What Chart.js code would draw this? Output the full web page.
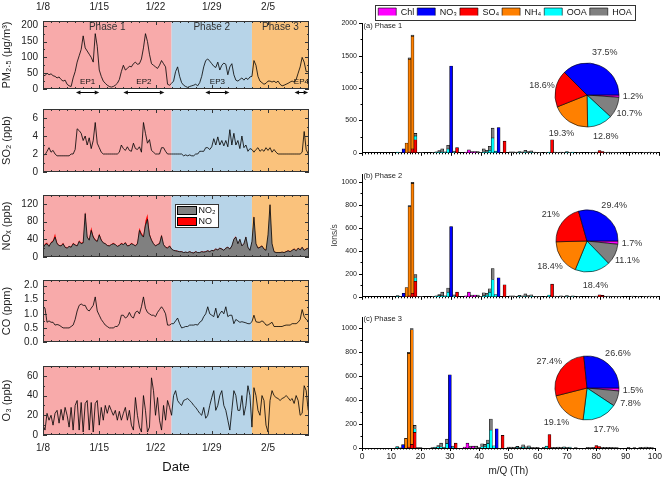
<!DOCTYPE html>
<html><head><meta charset="utf-8">
<script src="https://cdn.jsdelivr.net/npm/chart.js"></script>
<style>
html,body{margin:0;padding:0;background:#fff;}
#wrap{position:relative;width:666px;height:477px;overflow:hidden;background:#fff;}
canvas{position:absolute;display:block;}
</style></head><body><div id="wrap"></div>
<script>
// ---------------- DATA ----------------
const STEP = 0.25;               // days between samples, first sample 1/8 00:00
const XMAX = 33.1;
const dateLabels = ['1/8','1/15','1/22','1/29','2/5'];
const phaseNames = ['Phase 1','Phase 2','Phase 3'];
const phaseStart = [0, 16, 26];
const phaseEnd = [16, 26, 33.1];
const epNames = ['EP1','EP2','EP3','EP4'];
const epStart = [4.1, 10.0, 20.2, 31.3];
const epEnd = [7.0, 15.1, 23.2, 33.0];

const pm25 = [
45,42,50,45, 48,42,40,35, 38,30,25,28, 15,10,8,35, 55,85,105,125,
168,130,120,110, 100,85,175,135, 60,40,25,18, 12,8,6,8, 12,18,30,55,
75,60,65,72, 70,80,85,78, 80,95,130,175, 150,110,80,75, 70,65,75,90,
80,70,15,12, 18,25,55,70, 40,20,12,8, 5,8,10,12, 15,10,20,40,
70,90,95,88, 80,72,68,85, 60,75,82,78, 45,70,80,45, 28,25,30,35,
28,35,30,38, 40,90,75,40, 25,20,15,18, 25,25,22,25, 20,25,15,10,
12,15,18,22, 25,22,30,50, 70,100,85,55, 55];

const so2 = [
2.0,1.9,2.3,2.7, 2.2,2.4,2.0,1.8, 1.8,1.8,1.8,1.8, 1.8,1.8,2.0,2.0, 2.5,4.8,4.6,4.3,
3.5,4.0,3.0,3.8, 2.6,3.5,5.5,3.2, 2.7,2.2,2.0,2.0, 2.0,2.0,2.0,2.0, 2.0,2.0,2.2,3.0,
2.6,2.4,2.8,2.4, 2.3,3.2,2.6,2.5, 2.8,2.2,5.5,4.3, 3.2,3.6,2.4,2.2, 2.0,2.0,2.0,2.7,
2.7,2.3,2.0,2.0, 2.0,2.0,2.0,2.0, 2.0,2.0,1.8,1.9, 1.8,1.9,1.8,1.8, 2.0,2.0,2.3,2.3,
2.3,2.7,2.7,2.5, 2.8,3.7,3.0,3.9, 3.0,3.5,2.9,3.5, 2.8,4.7,3.0,4.3, 3.0,3.5,2.6,4.0,
2.7,3.0,2.3,2.6, 2.5,2.2,2.5,2.7, 2.3,2.5,2.3,2.7, 2.4,2.7,2.2,2.5, 2.2,2.0,2.0,2.0,
2.0,2.0,2.0,2.0, 2.0,2.0,2.0,2.0, 2.0,2.2,4.5,2.5, 2.0];

const no2 = [
20,28,30,24, 32,35,45,30, 26,25,30,22, 20,24,22,30, 27,25,35,30,
32,98,45,38, 60,45,38,35, 50,38,32,30, 26,25,28,30, 28,24,26,30,
28,32,25,26, 30,28,25,30, 60,50,45,72, 85,50,38,30, 25,28,30,48,
28,22,20,25, 18,15,14,13, 12,12,10,11, 10,12,10,9, 12,10,10,12,
11,12,14,12, 15,14,18,16, 20,18,15,20, 22,18,25,40, 45,30,40,25,
30,45,22,15, 35,90,30,20, 22,25,18,15, 50,118,30,12, 10,10,10,11,
10,12,14,12, 15,18,14,20, 16,22,15,18, 20];

const no = [
1,2,3,1, 2,3,8,2, 1,1,2,1, 1,1,1,2, 1,1,3,2,
2,5,2,1, 8,3,2,1, 3,2,1,1, 1,1,1,2, 1,1,1,2,
1,2,1,1, 2,1,1,2, 6,4,3,10, 12,4,2,1, 1,1,2,3,
1,1,1,1, 1,1,1,1, 1,1,1,1, 1,1,1,1, 1,1,1,1,
1,1,1,1, 1,2,1,1, 1,1,1,1, 1,1,1,2, 2,1,1,1,
1,2,1,1, 1,3,1,1, 1,1,1,1, 1,2,1,1, 1,1,1,1,
1,1,1,1, 1,1,1,1, 1,1,1,1, 1];

const co = [
1.25,1.2,0.7,0.75, 0.7,0.7,0.6,0.62, 0.6,0.55,0.5,0.5, 0.5,0.5,0.55,0.6, 0.8,1.1,1.3,1.35,
1.3,1.3,1.15,1.1, 1.2,1.3,1.6,1.1, 0.95,0.8,0.7,0.6, 0.55,0.5,0.5,0.5, 0.55,0.55,0.65,0.95,
0.95,0.85,0.9,1.05, 0.9,0.85,1.05,1.1, 1.0,1.25,1.6,1.2, 1.05,1.0,0.95,0.95, 0.9,1.05,1.15,1.25,
1.15,1.0,0.6,0.6, 0.65,0.65,0.75,0.85, 0.65,0.5,0.52,0.55, 0.55,0.6,0.6,0.6, 0.62,0.6,0.7,0.75,
0.9,1.0,1.25,1.0, 0.95,0.9,1.2,0.85, 1.0,1.1,1.0,1.25, 0.9,0.95,0.95,0.65, 0.8,0.75,0.7,0.72,
0.7,0.68,0.65,0.65, 0.72,0.95,0.72,0.7, 0.7,0.75,0.7,0.6, 0.6,0.65,0.7,0.55, 0.55,0.55,0.55,0.55,
0.58,0.6,0.6,0.6, 0.65,0.65,0.65,0.7, 0.8,1.15,0.9,0.8, 0.75];

const o3 = [
10,5,22,15, 20,10,22,25, 12,26,15,28, 20,8,28,5, 30,35,5,33,
3,32,35,5, 33,3,32,35, 10,28,15,30, 22,30,25,20, 25,15,24,15,
22,28,15,25, 10,5,38,20, 8,3,40,25, 3,8,58,45, 20,38,15,5,
30,15,35,28, 20,40,45,35, 32,30,35,36, 37,35,33,30, 28,25,22,20,
28,17,20,30, 38,45,25,30, 40,45,30,25, 15,5,25,45, 40,25,25,40,
20,30,50,40, 8,48,40,25, 20,40,35,10, 3,35,45,40, 38,37,35,37,
38,40,38,35, 37,32,40,35, 20,22,50,45, 25];

// mass spectra (m/Q in Th, ions/s)
const speciesKeys = ['Chl','NO3','SO4','NH4','OOA','HOA'];
const speciesLabels = ['Chl','NO\u2083','SO\u2084','NH\u2084','OOA','HOA'];
const speciesColors = ['#FF00FF','#0000FF','#FF0000','#FF8000','#00FFFF','#808080'];

const chlMz = [35, 36, 37, 38];
const no3Mz = [14, 30, 46];
const so4Mz = [16, 17, 18, 32, 48, 64, 80, 81];
const nh4Mz = [15, 16, 17];
const ooaMz = [12, 18, 25, 26, 27, 28, 29, 31, 41, 42, 43, 44, 45, 53, 55, 57, 63, 69, 71];
const hoaMz = [12, 13, 16, 17, 18, 19, 20, 24, 25, 26, 27, 28, 29, 31, 37, 39, 40, 41, 42, 43, 44,
  50, 51, 52, 53, 54, 55, 56, 57, 58, 59, 60, 62, 65, 66, 67, 68, 69, 70, 71, 73, 77, 78, 79,
  82, 83, 84, 85, 86, 87, 91, 93, 95, 96, 97, 98, 99];

const p1Chl = [12, 45, 10, 20];
const p1NO3 = [60, 1340, 390];
const p1SO4 = [15, 60, 200, 80, 180, 200, 35, 20];
const p1NH4 = [150, 1430, 1740];
const p1OOA = [5, 60, 5, 15, 15, 5, 60, 10, 15, 15, 40, 230, 25, 5, 8, 5, 12, 3, 3];
const p1HOA = [8, 3, 20, 15, 40, 5, 5, 5, 10, 20, 45, 10, 55, 15, 10, 20, 5, 45, 25, 60, 150,
  15, 15, 10, 15, 15, 30, 20, 25, 10, 5, 8, 8, 10, 8, 12, 8, 15, 8, 10, 5, 8, 6, 10,
  8, 10, 8, 8, 5, 5, 10, 5, 8, 5, 10, 8, 5];

const p2Chl = [8, 40, 8, 15];
const p2NO3 = [30, 610, 165];
const p2SO4 = [8, 30, 135, 40, 105, 110, 18, 12];
const p2NH4 = [80, 775, 955];
const p2OOA = [5, 30, 3, 10, 10, 3, 40, 8, 10, 15, 40, 150, 20, 3, 5, 3, 15, 2, 2];
const p2HOA = [6, 2, 10, 10, 28, 3, 3, 3, 5, 10, 30, 5, 36, 10, 8, 15, 3, 25, 15, 30, 95,
  8, 8, 5, 10, 8, 20, 10, 15, 5, 3, 5, 5, 6, 5, 8, 5, 8, 5, 6, 3, 5, 3, 6,
  5, 6, 5, 5, 3, 3, 6, 3, 5, 3, 6, 5, 3];

const p3Chl = [8, 40, 8, 15];
const p3NO3 = [28, 610, 160];
const p3SO4 = [8, 30, 130, 40, 105, 112, 20, 12];
const p3NH4 = [80, 780, 955];
const p3OOA = [5, 30, 3, 10, 10, 3, 38, 8, 10, 15, 38, 150, 18, 3, 5, 3, 15, 2, 2];
const p3HOA = [6, 2, 10, 10, 28, 3, 3, 3, 5, 10, 30, 5, 36, 8, 8, 15, 3, 25, 15, 28, 92,
  8, 8, 5, 10, 8, 22, 10, 15, 5, 3, 5, 5, 6, 5, 8, 5, 8, 5, 6, 3, 5, 3, 6,
  5, 6, 5, 5, 3, 3, 6, 3, 5, 3, 8, 5, 3];

// pie fractions (%), clockwise from 3 o'clock
const pieKeys = ['Chl','HOA','OOA','NH4','SO4','NO3'];
const pie1 = [1.2, 10.7, 12.8, 19.3, 18.6, 37.5];
const pie2 = [1.7, 11.1, 18.4, 18.4, 21, 29.4];
const pie3 = [1.5, 7.8, 17.7, 19.1, 27.4, 26.6];

// ---------------- SETUP ----------------
const FONT = "'Liberation Sans', Arial, Helvetica, sans-serif";
Chart.defaults.font.family = FONT;
Chart.defaults.color = '#222';
Chart.defaults.animation = false;
const phaseColors = ['#F8AAAA', '#B7D4E8', '#FAC27C'];

function mk(left, top, w, h) {
  const c = document.createElement('canvas');
  c.width = w; c.height = h;
  c.style.left = left + 'px'; c.style.top = top + 'px';
  c.style.width = w + 'px'; c.style.height = h + 'px';
  document.getElementById('wrap').appendChild(c);
  return c;
}
const toPts = arr => arr.map((v, i) => ({x: i * STEP, y: v}));

const phaseBg = {
  id: 'phaseBg',
  beforeDatasetsDraw(chart) {
    const {ctx, chartArea: a, scales: {x}} = chart;
    ctx.save();
    for (let i = 0; i < phaseStart.length; i++) {
      const x0 = Math.max(a.left, x.getPixelForValue(phaseStart[i]));
      const x1 = Math.min(a.right, x.getPixelForValue(phaseEnd[i]));
      ctx.fillStyle = phaseColors[i];
      ctx.fillRect(x0, a.top, x1 - x0, a.bottom - a.top);
    }
    ctx.restore();
  }
};

const frameTicks = {
  id: 'frameTicks',
  afterDatasetsDraw(chart) {
    const {ctx, chartArea: a, scales: {x, y}} = chart;
    ctx.save();
    ctx.strokeStyle = '#333';
    ctx.lineWidth = 1;
    ctx.beginPath();
    for (let d = 0; d <= x.max; d++) {
      const px = Math.round(x.getPixelForValue(d)) + 0.5;
      const len = d % 7 === 0 ? 4 : 2;
      ctx.moveTo(px, a.top); ctx.lineTo(px, a.top + len);
      ctx.moveTo(px, a.bottom); ctx.lineTo(px, a.bottom - len);
    }
    const step = y.options.ticks.stepSize;
    for (let i = 0; y.min + i * step / 2 <= y.max + 1e-9; i++) {
      const py = Math.round(y.getPixelForValue(y.min + i * step / 2)) + 0.5;
      const len = i % 2 === 0 ? 4 : 2;
      ctx.moveTo(a.left, py); ctx.lineTo(a.left + len, py);
      ctx.moveTo(a.right, py); ctx.lineTo(a.right - len, py);
    }
    ctx.stroke();
    ctx.strokeRect(Math.round(a.left) + 0.5, Math.round(a.top) + 0.5,
      Math.round(a.right - a.left) - 1, Math.round(a.bottom - a.top) - 1);
    ctx.restore();
  }
};

const pmExtras = {
  id: 'pmExtras',
  afterDraw(chart) {
    const {ctx, chartArea: a, scales: {x}} = chart;
    ctx.save();
    ctx.textAlign = 'center'; ctx.textBaseline = 'middle';
    ctx.font = `10px ${FONT}`; ctx.fillStyle = '#333';
    phaseNames.forEach((n, i) => {
      const cx = (x.getPixelForValue(phaseStart[i]) + x.getPixelForValue(Math.min(phaseEnd[i], x.max))) / 2;
      ctx.fillText(n, cx, a.top + 6.5);
    });
    ctx.font = `8px ${FONT}`; ctx.fillStyle = '#111'; ctx.strokeStyle = '#000'; ctx.lineWidth = 1;
    epNames.forEach((n, i) => {
      const x0 = x.getPixelForValue(epStart[i]), x1 = x.getPixelForValue(epEnd[i]);
      ctx.fillText(n, (x0 + x1) / 2, a.bottom - 7.5);
      const ay = a.bottom + 3.5;
      ctx.beginPath(); ctx.moveTo(x0 + 3, ay); ctx.lineTo(x1 - 3, ay); ctx.stroke();
      ctx.beginPath(); ctx.moveTo(x0, ay); ctx.lineTo(x0 + 4.5, ay - 2); ctx.lineTo(x0 + 4.5, ay + 2); ctx.closePath(); ctx.fill();
      ctx.beginPath(); ctx.moveTo(x1, ay); ctx.lineTo(x1 - 4.5, ay - 2); ctx.lineTo(x1 - 4.5, ay + 2); ctx.closePath(); ctx.fill();
    });
    ctx.restore();
  }
};

const noxLegend = {
  id: 'noxLegend',
  afterDraw(chart) {
    const {ctx, chartArea: a} = chart;
    const bx = Math.round(a.left + (a.right - a.left) * 0.495) + 0.5, by = Math.round(a.top + 9) + 0.5;
    const bw = 43, bh = 23;
    ctx.save();
    ctx.fillStyle = '#fff'; ctx.fillRect(bx, by, bw, bh);
    ctx.strokeStyle = '#333'; ctx.lineWidth = 1; ctx.strokeRect(bx, by, bw, bh);
    ctx.font = `9px ${FONT}`; ctx.textAlign = 'left'; ctx.textBaseline = 'middle';
    chart.data.datasets.forEach((ds, i) => {
      const sy = by + 2 + i * 11;
      ctx.fillStyle = ds.backgroundColor; ctx.fillRect(bx + 2, sy, 19, 8);
      ctx.strokeStyle = '#000'; ctx.strokeRect(bx + 2, sy, 19, 8);
      ctx.fillStyle = '#111'; ctx.fillText(ds.label, bx + 23, sy + 4.5);
    });
    ctx.restore();
  }
};

function timeChart(canvas, datasets, o) {
  const xAxis = {
    type: 'linear', min: 0, max: XMAX, offset: false,
    position: o.xPos || 'bottom', display: !!o.xPos,
    grid: {display: false, drawTicks: false}, border: {display: false},
    ticks: {stepSize: 7, autoSkip: false, maxRotation: 0, includeBounds: false,
      padding: o.xPad || 7, font: {size: 10}, color: '#222',
      callback: v => dateLabels[Math.round(v / 7)]},
    title: {display: !!o.xTitle, text: o.xTitle || '', color: '#111', font: {size: 13}, padding: {top: 0, bottom: 2}}
  };
  if (o.xPos) xAxis.afterFit = s => { s.height = o.xHeight; };
  return new Chart(canvas, {
    type: 'line',
    data: {datasets},
    options: {
      responsive: false, animation: false, events: [],
      layout: {padding: {left: 0, right: 3, top: o.padTop, bottom: o.padBottom}},
      plugins: {legend: {display: false}, tooltip: {enabled: false}},
      elements: {point: {radius: 0}, line: {tension: 0, borderWidth: 0.8}},
      scales: {
        x: xAxis,
        y: {
          type: 'linear', min: 0, max: o.yMax, stacked: !!o.stacked,
          grid: {display: false, drawTicks: false}, border: {display: false},
          ticks: {stepSize: o.yStep, includeBounds: false, padding: 5, font: {size: 10}, color: '#222',
            callback: o.fmt || (v => String(v))},
          title: {display: true, text: o.title, color: '#222', font: {size: 11}, padding: {top: 0, bottom: 0}},
          afterFit: s => { s.width = 43; }
        }
      }
    },
    plugins: [phaseBg, frameTicks].concat(o.extra || [])
  });
}

const lineDs = (label, arr) => ({label, data: toPts(arr), borderColor: '#000', borderWidth: 0.8, fill: false});

timeChart(mk(0, 0, 312, 100), [lineDs('PM\u2082.\u2085', pm25)],
  {padTop: 0, padBottom: 6, xPos: 'top', xHeight: 21, xPad: 8, yMax: 215, yStep: 50,
   title: 'PM\u2082.\u2085 (\u03BCg/m\u00B3)', extra: [pmExtras]});
timeChart(mk(0, 98, 312, 85), [lineDs('SO\u2082', so2)],
  {padTop: 4, padBottom: 4, yMax: 7, yStep: 2, title: 'SO\u2082 (ppb)'});
timeChart(mk(0, 184, 312, 84), [
    {label: 'NO\u2082', data: toPts(no2), borderColor: '#000', backgroundColor: '#808080', borderWidth: 0.8, fill: 'origin'},
    {label: 'NO', data: toPts(no), borderColor: 'rgba(0,0,0,0)', backgroundColor: '#FF0000', borderWidth: 0, fill: '-1'}
  ],
  {padTop: 4, padBottom: 4, yMax: 140, yStep: 40, stacked: true, title: 'NO\u2093 (ppb)', extra: [noxLegend]});
timeChart(mk(0, 269, 312, 84), [lineDs('CO', co)],
  {padTop: 4, padBottom: 4, yMax: 2.2, yStep: 0.5, fmt: v => v.toFixed(1), title: 'CO (ppm)'});
timeChart(mk(0, 355, 312, 122), [lineDs('O\u2083', o3)],
  {padTop: 4, padBottom: 0, xPos: 'bottom', xHeight: 42, xPad: 7, xTitle: 'Date', yMax: 70, yStep: 20, title: 'O\u2083 (ppb)'});

// ---------------- mass spectra ----------------
const speciesMz = [chlMz, no3Mz, so4Mz, nh4Mz, ooaMz, hoaMz];

const specTicks = {
  id: 'specTicks',
  afterDraw(chart, args, opts) {
    const {ctx, chartArea: a, scales: {x, y}} = chart;
    ctx.save(); ctx.strokeStyle = '#000'; ctx.lineWidth = 1; ctx.beginPath();
    for (let m = 0; m <= 100; m++) {
      const px = Math.round(x.getPixelForValue(m)) + 0.5;
      const len = m % 10 === 0 ? 3 : 1.5;
      ctx.moveTo(px, a.bottom); ctx.lineTo(px, a.bottom + len);
    }
    const step = y.options.ticks.stepSize;
    for (let i = 0; i * step / 2 <= y.max + 1e-9; i++) {
      const py = Math.round(y.getPixelForValue(i * step / 2)) + 0.5;
      const len = i % 2 === 0 ? 3 : 1.5;
      ctx.moveTo(a.left, py); ctx.lineTo(a.left - len, py);
    }
    ctx.stroke();
    if (opts && opts.text) {
      ctx.font = `7.5px ${FONT}`; ctx.fillStyle = '#222'; ctx.textAlign = 'left'; ctx.textBaseline = 'middle';
      ctx.fillText(opts.text, a.left + 1.5, a.top + opts.dy);
    }
    ctx.restore();
  }
};

function specChart(canvas, vals, o) {
  const datasets = speciesKeys.map((k, s) => ({
    label: speciesLabels[s],
    data: speciesMz[s].map((m, i) => ({x: m, y: vals[s][i]})),
    backgroundColor: speciesColors[s], borderColor: '#000', borderWidth: 0.6,
    grouped: false, categoryPercentage: 1, barPercentage: 1
  }));
  return new Chart(canvas, {
    type: 'bar',
    data: {datasets},
    options: {
      responsive: false, animation: false, events: [],
      layout: {padding: {left: 0, right: 7, top: o.padTop, bottom: o.padBottom}},
      plugins: {legend: {display: false}, tooltip: {enabled: false}, specTicks: {text: o.label, dy: o.labelDy}},
      scales: {
        x: {type: 'linear', min: 0, max: 100, offset: false,
          grid: {display: false, drawTicks: false}, border: {display: true, color: '#000', width: 1},
          ticks: {display: !!o.xLabels, stepSize: 10, autoSkip: false, maxRotation: 0, includeBounds: false,
            padding: 4, font: {size: 8.5}, color: '#222', callback: v => String(v)},
          title: {display: !!o.xLabels, text: 'm/Q (Th)', font: {size: 10}, color: '#222', padding: {top: 0, bottom: 0}},
          afterFit: s => { s.height = o.xHeight; }},
        y: {type: 'linear', stacked: true, min: 0, max: o.yMax,
          grid: {display: false, drawTicks: false}, border: {display: true, color: '#000', width: 1},
          ticks: {stepSize: o.yStep, includeBounds: false, padding: 5, font: {size: 7}, color: '#222',
            callback: v => String(v)},
          title: {display: !!o.yTitle, text: o.yTitle || '', font: {size: 8.5}, color: '#444', padding: {top: 0, bottom: 0}},
          afterFit: s => { s.width = 32; }}
      }
    },
    plugins: [specTicks]
  });
}

specChart(mk(330, 14, 336, 148), [p1Chl, p1NO3, p1SO4, p1NH4, p1OOA, p1HOA],
  {padTop: 9, padBottom: 6, xHeight: 0, yMax: 2000, yStep: 500, label: '(a) Phase 1', labelDy: 3});
specChart(mk(330, 165, 336, 141), [p2Chl, p2NO3, p2SO4, p2NH4, p2OOA, p2HOA],
  {padTop: 8, padBottom: 4, xHeight: 0, yMax: 1065, yStep: 200, label: '(b) Phase 2', labelDy: 1.5, yTitle: 'Ions/s'});
specChart(mk(330, 308, 336, 169), [p3Chl, p3NO3, p3SO4, p3NH4, p3OOA, p3HOA],
  {padTop: 9, padBottom: 0, xHeight: 29, xLabels: true, yMax: 1090, yStep: 200, label: '(c) Phase 3', labelDy: 2});

// legend
const legendBox = {
  id: 'legendBox',
  afterDraw(chart) {
    const lg = chart.legend;
    if (!lg || !lg.legendHitBoxes || !lg.legendHitBoxes.length) return;
    const hb = lg.legendHitBoxes, ctx = chart.ctx;
    const l = Math.min(...hb.map(h => h.left)) - 3;
    const r = Math.max(...hb.map(h => h.left + h.width)) + 3;
    const t = Math.min(...hb.map(h => h.top)) - 3;
    const b = Math.max(...hb.map(h => h.top + h.height)) + 3;
    ctx.save(); ctx.strokeStyle = '#333'; ctx.lineWidth = 1;
    ctx.strokeRect(Math.round(l) + 0.5, Math.round(t) + 0.5, Math.round(r - l), Math.round(b - t));
    ctx.restore();
  }
};
new Chart(mk(330, 0, 336, 26), {
  type: 'bar',
  data: {datasets: speciesKeys.map((k, s) => ({label: speciesLabels[s], data: [],
    backgroundColor: speciesColors[s], borderColor: '#000', borderWidth: 0.6}))},
  options: {
    responsive: false, animation: false, events: [],
    layout: {padding: {left: 14, top: 5, right: 0, bottom: 0}},
    scales: {x: {display: false}, y: {display: false}},
    plugins: {tooltip: {enabled: false},
      legend: {display: true, position: 'top', align: 'center',
        labels: {boxWidth: 18, boxHeight: 9, padding: 3, color: '#111', font: {size: 9}}}}
  },
  plugins: [legendBox]
});

// pies
const pieLabels = {
  id: 'pieLabels',
  afterDraw(chart) {
    const {ctx} = chart;
    const meta = chart.getDatasetMeta(0);
    const vals = chart.data.datasets[0].data;
    ctx.save();
    ctx.font = `9px ${FONT}`; ctx.fillStyle = '#333'; ctx.textAlign = 'center'; ctx.textBaseline = 'middle';
    meta.data.forEach((arc, i) => {
      const p = arc.getProps(['x', 'y', 'startAngle', 'endAngle', 'outerRadius'], true);
      const ang = (p.startAngle + p.endAngle) / 2;
      const r = p.outerRadius + 14;
      ctx.fillText(vals[i] + '%', p.x + r * Math.cos(ang), p.y + r * Math.sin(ang));
    });
    ctx.restore();
  }
};
function pieChart(canvas, vals, radius) {
  return new Chart(canvas, {
    type: 'pie',
    data: {labels: pieKeys.map(k => speciesLabels[speciesKeys.indexOf(k)]),
      datasets: [{data: vals, backgroundColor: pieKeys.map(k => speciesColors[speciesKeys.indexOf(k)]),
        borderColor: '#000', borderWidth: 0.6}]},
    options: {
      responsive: false, animation: false, events: [],
      rotation: 90, radius: radius,
      layout: {padding: 0},
      plugins: {legend: {display: false}, tooltip: {enabled: false}}
    },
    plugins: [pieLabels]
  });
}
pieChart(mk(517, 40, 140, 110), pie1, 32);
pieChart(mk(517, 186, 140, 110), pie2, 31);
pieChart(mk(517, 333, 140, 110), pie3, 32);
</script></body></html>
